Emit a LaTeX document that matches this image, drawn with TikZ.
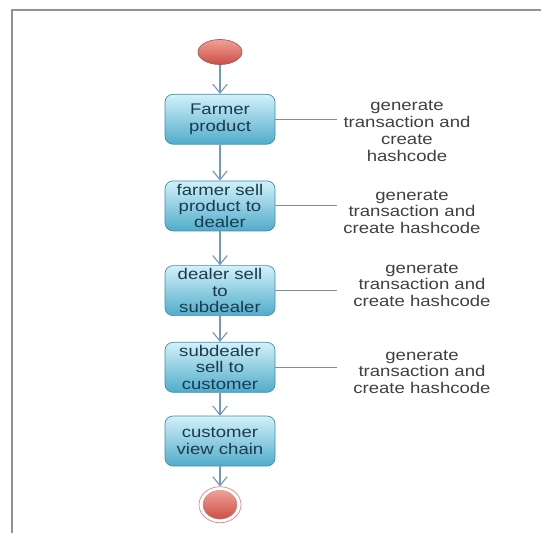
\documentclass[tikz,border=0pt]{standalone}
\usepackage{fontspec}
\setmainfont{Liberation Sans}[FakeStretch=1.2]
\usetikzlibrary{positioning,arrows.meta,shapes.geometric}
\definecolor{boxtop}{RGB}{210,241,249}
\definecolor{boxbottom}{RGB}{80,172,202}
\definecolor{boxline}{RGB}{64,142,174}
\definecolor{flowline}{RGB}{114,152,194}
\definecolor{linkline}{RGB}{130,140,152}
\definecolor{boxtext}{RGB}{28,58,78}
\definecolor{notetext}{RGB}{64,64,64}
\definecolor{redtop}{RGB}{240,160,150}
\definecolor{redbottom}{RGB}{204,78,70}
\definecolor{redline}{RGB}{150,96,96}
\definecolor{framegray}{RGB}{138,148,160}
\tikzset{
        activity/.style={rectangle, rounded corners=2mm, draw=boxline, line width=0.5pt, top color=boxtop, bottom color=boxbottom,
          minimum width=2.75cm, minimum height=1.25cm, inner sep=1pt, align=center, text=boxtext, font=\fontsize{11}{11.5}\selectfont},
        startnode/.style={ellipse, draw=redline, line width=0.5pt, top color=redtop, bottom color=redbottom,
          minimum width=1.1cm, minimum height=0.625cm, inner sep=0pt},
        endnode/.style={ellipse, draw=redtop!80!red, line width=0.5pt, fill=white, minimum width=1.05cm, minimum height=0.9cm, inner sep=0pt},
        endcore/.style={ellipse, draw=redline!70, line width=0.3pt, top color=redtop, bottom color=redbottom,
          minimum width=0.85cm, minimum height=0.72cm, inner sep=0pt},
        flow/.style={draw=flowline, line width=0.8pt, -{Straight Barb[length=2.2mm,width=3.6mm]}},
        link/.style={draw=linkline, line width=0.6pt},
        note/.style={align=center, text=notetext, font=\fontsize{11}{12}\selectfont},
        frame/.style={draw=framegray, line width=1.2pt}
          }
\begin{document}
\begin{tikzpicture}
        \useasboundingbox (0,0) rectangle (13.525,-13.325);
        \draw[frame] (13.525,-0.25) -- (0.3,-0.25) -- (0.3,-13.325);

        \node[startnode] (start) at (5.5,-1.3) {};
        \node[activity, below=0.725cm of start] (farmer) {Farmer\\product};
        \node[activity, below=0.9cm of farmer] (dealer) {farmer sell\\product to\\dealer};
        \node[activity, below=0.85cm of dealer] (subdealer) {dealer sell\\to\\subdealer};
        \node[activity, below=0.65cm of subdealer] (customer) {subdealer\\sell to\\customer};
        \node[activity, below=0.575cm of customer] (view) {customer\\view chain};
        \node[endnode, below=0.5cm of view] (stop) {};
        \node[endcore] (stopcore) at (stop) {};

        \draw[flow] (start) -- (farmer);
        \draw[flow] (farmer) -- (dealer);
        \draw[flow] (dealer) -- (subdealer);
        \draw[flow] (subdealer) -- (customer);
        \draw[flow] (customer) -- (view);
        \draw[flow] (view) -- (stop);

        \coordinate (e1) at (farmer.east -| 8.425,0);
        \coordinate (e2) at (dealer.east -| 8.425,0);
        \coordinate (e3) at (subdealer.east -| 8.425,0);
        \coordinate (e4) at (customer.east -| 8.425,0);
        \node[note] (hash1) at (10.175,-3.275) {generate\\transaction and\\create\\hashcode};
        \node[note] (hash2) at (10.3,-5.3) {generate\\transaction and\\create hashcode};
        \node[note] (hash3) at (10.55,-7.125) {generate\\transaction and\\create hashcode};
        \node[note] (hash4) at (10.55,-9.3) {generate\\transaction and\\create hashcode};
        \draw[link] (farmer) -- (e1);
        \draw[link] (dealer) -- (e2);
        \draw[link] (subdealer) -- (e3);
        \draw[link] (customer) -- (e4);
      \end{tikzpicture}
\end{document}
